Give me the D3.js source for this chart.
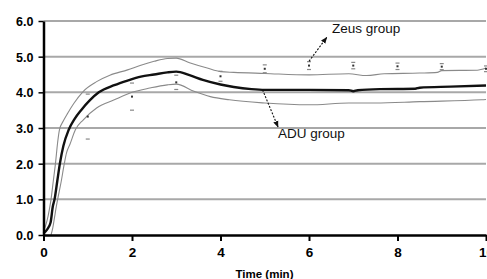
<!DOCTYPE html>
<html><head><meta charset="utf-8">
<script src="https://cdn.jsdelivr.net/npm/d3@7"></script>
<style>html,body{margin:0;padding:0;background:#fff;}svg{display:block;}</style>
</head><body>
<svg id="c" width="487" height="279"></svg>
<script>
// ADU group: continuous mean curve with upper/lower band
const meanTime = [0, 0.08, 0.16, 0.21, 0.25, 0.31, 0.37, 0.45, 0.57, 0.7, 0.85, 1.05, 1.25, 1.6, 1.9, 2.2, 2.5, 2.8, 3.0, 3.3, 3.6, 4.0, 4.3, 4.7, 5.0, 6.0, 6.9, 7.0, 7.1, 7.6, 8.4, 8.5, 9.2, 10];
const meanVal  = [0.05, 0.15, 0.35, 0.8, 1.0, 1.5, 2.0, 2.5, 2.95, 3.25, 3.5, 3.78, 4.0, 4.2, 4.33, 4.44, 4.5, 4.56, 4.58, 4.48, 4.35, 4.22, 4.15, 4.09, 4.07, 4.07, 4.06, 4.03, 4.06, 4.09, 4.1, 4.13, 4.16, 4.19];
const upperTime = [0, 0.08, 0.13, 0.17, 0.22, 0.27, 0.32, 0.36, 0.45, 0.55, 0.68, 0.9, 1.2, 1.5, 1.9, 2.2, 2.5, 2.8, 3.0, 3.3, 3.7, 4.0, 4.3, 5.0, 6.0, 6.9, 7.3, 7.7, 8.5, 8.9, 9.0, 9.8, 10];
const upperVal  = [0.1, 0.4, 0.7, 1.0, 1.5, 2.0, 2.6, 2.95, 3.2, 3.42, 3.68, 4.03, 4.3, 4.48, 4.63, 4.76, 4.87, 4.95, 4.96, 4.83, 4.68, 4.58, 4.56, 4.53, 4.49, 4.52, 4.47, 4.52, 4.54, 4.56, 4.61, 4.62, 4.68];
const lowerTime = [0.17, 0.21, 0.25, 0.29, 0.32, 0.4, 0.47, 0.52, 0.6, 0.72, 0.9, 1.2, 1.6, 2.0, 2.4, 2.8, 3.0, 3.4, 3.77, 4.2, 5.0, 6.0, 6.9, 7.5, 8.5, 9.9, 10];
const lowerVal  = [0, 0.2, 0.5, 0.8, 1.0, 1.5, 2.0, 2.3, 2.55, 2.95, 3.23, 3.56, 3.79, 4.0, 4.12, 4.21, 4.23, 4.03, 3.88, 3.79, 3.7, 3.65, 3.7, 3.7, 3.74, 3.79, 3.8];
// Zeus group: discrete points with SD
const zeusTime = [1, 2, 3, 4, 5, 6, 7, 8, 9, 10];
const zeusMean = [3.32, 3.88, 4.28, 4.45, 4.66, 4.75, 4.75, 4.73, 4.72, 4.66];
const zeusSD   = [0.63, 0.38, 0.2, 0.14, 0.11, 0.11, 0.09, 0.09, 0.085, 0.08];
// ticks
const xTicks = [0, 2, 4, 6, 8, 10];
const yTicks = [0, 1, 2, 3, 4, 5, 6];
const xTitle = "Time (min)";
const labels = [{text: "Zeus group", from: [6, 4.87], to: [6.4, 5.54], tx: 6.52, ty: 5.66},
                {text: "ADU group", from: [4.95, 4.07], to: [5.3, 3.03], tx: 5.3, ty: 2.73}];

const svg = d3.select("#c");
const x = d3.scaleLinear().domain([0, 10]).range([43.5, 486]);
const y = d3.scaleLinear().domain([0, 6]).range([235, 21]);

// gridlines
svg.append("g").selectAll("line").data(yTicks.filter(d => d > 0)).join("line")
  .attr("x1", x(0)).attr("x2", x(10)).attr("y1", d => y(d)).attr("y2", d => y(d))
  .attr("stroke", "#a8a8a8").attr("stroke-width", 2);

const line = d3.line().x(d => x(d[0])).y(d => y(d[1])).curve(d3.curveMonotoneX);
const zip = (a, b) => a.map((v, i) => [v, b[i]]);

svg.append("path").attr("d", line(zip(upperTime, upperVal))).attr("fill", "none").attr("stroke", "#8a8a8a").attr("stroke-width", 1.1);
svg.append("path").attr("d", line(zip(lowerTime, lowerVal))).attr("fill", "none").attr("stroke", "#8a8a8a").attr("stroke-width", 1.1);
svg.append("path").attr("d", line(zip(meanTime, meanVal))).attr("fill", "none").attr("stroke", "#111").attr("stroke-width", 2.4);

// Zeus markers
const zg = svg.append("g");
zeusTime.forEach((t, i) => {
  const cx = x(t);
  [zeusMean[i] + zeusSD[i], zeusMean[i] - zeusSD[i]].forEach(v => {
    zg.append("line").attr("x1", cx - 2).attr("x2", cx + 2).attr("y1", y(v)).attr("y2", y(v))
      .attr("stroke", "#888").attr("stroke-width", 1.2);
  });
  zg.append("rect").attr("x", cx - 1).attr("y", y(zeusMean[i]) - 1).attr("width", 2).attr("height", 2).attr("fill", "#333");
});

// axes
const xAxis = d3.axisBottom(x).tickValues(xTicks).tickFormat(d3.format("d")).tickSize(6).tickSizeOuter(0);
const gx = svg.append("g").attr("transform", `translate(0,${y(0)})`).call(xAxis);
gx.select(".domain").attr("stroke", "#000").attr("stroke-width", 2.5);
gx.selectAll(".tick line").attr("stroke", "#000").attr("stroke-width", 2);
gx.selectAll(".tick text").attr("font-family", "Liberation Sans, Arial, sans-serif").attr("font-weight", "bold")
  .attr("font-size", 13.5).attr("fill", "#000").attr("dy", "0.9em").attr("y", 10);

const yAxis = d3.axisLeft(y).tickValues(yTicks).tickFormat(d3.format(".1f")).tickSize(5).tickSizeOuter(0);
const gy = svg.append("g").attr("transform", `translate(${x(0)},0)`).call(yAxis);
gy.select(".domain").attr("stroke", "#000").attr("stroke-width", 2.5);
gy.selectAll(".tick line").attr("stroke", "#000").attr("stroke-width", 1.5);
gy.selectAll(".tick text").attr("font-family", "Liberation Sans, Arial, sans-serif").attr("font-weight", "bold")
  .attr("font-size", 12.5).attr("fill", "#000").attr("x", -10).attr("dy", "0.35em");

svg.append("text").attr("x", 264.5).attr("y", 278).attr("text-anchor", "middle")
  .attr("font-family", "Liberation Sans, Arial, sans-serif").attr("font-weight", "bold").attr("font-size", 11.5)
  .text(xTitle);

// arrows + labels
const defs = svg.append("defs");
defs.append("marker").attr("id", "ah").attr("viewBox", "0 0 10 10").attr("refX", 9).attr("refY", 5)
  .attr("markerWidth", 6).attr("markerHeight", 6).attr("orient", "auto")
  .append("path").attr("d", "M0,1 L10,5 L0,9 Z").attr("fill", "#111");
labels.forEach(l => {
  svg.append("line").attr("x1", x(l.from[0])).attr("y1", y(l.from[1])).attr("x2", x(l.to[0])).attr("y2", y(l.to[1]))
    .attr("stroke", "#111").attr("stroke-width", 1.1).attr("stroke-dasharray", "2,1.5").attr("marker-end", "url(#ah)");
  svg.append("text").attr("x", x(l.tx)).attr("y", y(l.ty))
    .attr("font-family", "Liberation Sans, Arial, sans-serif").attr("font-size", 13.5).attr("fill", "#111").text(l.text);
});
</script>
</body></html>
